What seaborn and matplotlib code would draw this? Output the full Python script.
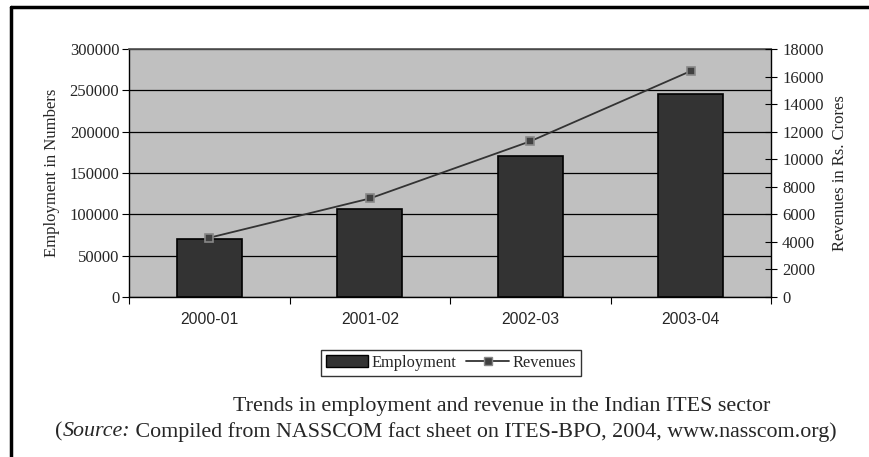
import matplotlib
matplotlib.use('Agg')
import matplotlib.pyplot as plt
import seaborn as sns
from matplotlib.lines import Line2D
from matplotlib.patches import Patch

# data
years = ['2000-01', '2001-02', '2002-03', '2003-04']
employment = [70500, 107000, 171000, 245500]
revenues = [4300, 7150, 11300, 16400]

sns.set_theme(style='white')
plt.rcParams['font.family'] = ['Liberation Serif', 'DejaVu Serif']

fig = plt.figure(figsize=(8.7, 4.57), dpi=100)
ax = fig.add_axes([0.1483, 0.3501, 0.7379, 0.5427])
ax.set_facecolor('#c0c0c0')

sns.barplot(x=years, y=employment, ax=ax, color='#333333', width=0.405,
            edgecolor='black', linewidth=1.2, saturation=1, zorder=3)
ax.set_ylim(0, 300000)
ax.set_yticks(range(0, 300001, 50000))
ax.set_yticklabels([str(v) for v in range(0, 300001, 50000)], fontsize=12)
ax.yaxis.grid(True, color='black', linewidth=0.9)
ax.set_axisbelow(True)
ax.set_ylabel('Employment in Numbers', fontsize=12, labelpad=7)
ax.tick_params(axis='y', direction='out', length=5, width=0.8, color='black',
               pad=2, left=True)

# x ticks at category borders, labels in between
ax.set_xlim(-0.5, 3.5)
ax.set_xticks([-0.5, 0.5, 1.5, 2.5, 3.5])
ax.set_xticklabels([])
ax.set_xticks([0, 1, 2, 3], minor=True)
ax.set_xticklabels(years, minor=True, fontsize=11.3, family='Liberation Sans')
ax.tick_params(axis='x', which='major', direction='out', length=5, width=0.8,
               color='black', bottom=True)
ax.tick_params(axis='x', which='minor', length=0, pad=11)

for s in ['left', 'bottom']:
    ax.spines[s].set_color('black')
    ax.spines[s].set_linewidth(1)
ax.spines['top'].set_color('#555555')
ax.spines['right'].set_visible(False)

ax2 = ax.twinx()
sns.pointplot(x=years, y=revenues, ax=ax2, color='#333333', markers='s',
              linestyles='-', linewidth=1.3, markersize=6)
for ln in ax2.lines:
    ln.set_markerfacecolor('#404040')
    ln.set_markeredgecolor('#888888')
    ln.set_markeredgewidth(1.2)
ax2.set_xlim(-0.5, 3.5)
ax2.set_ylim(0, 18000)
ax2.set_yticks(range(0, 18001, 2000))
ax2.set_yticklabels([str(v) for v in range(0, 18001, 2000)], fontsize=12)
ax2.set_ylabel('Revenues in Rs. Crores', fontsize=12, labelpad=6)
ax2.tick_params(axis='y', direction='inout', length=8, width=0.8, color='black',
                pad=4, right=True)
ax2.grid(False)
for s in ['left', 'top', 'bottom']:
    ax2.spines[s].set_visible(False)
ax2.spines['right'].set_color('black')
ax2.spines['right'].set_linewidth(1)

handles = [Patch(facecolor='#333333', edgecolor='black', label='Employment'),
           Line2D([], [], color='#333333', linewidth=1.3, marker='s', markersize=6,
                  markerfacecolor='#404040', markeredgecolor='#888888',
                  label='Revenues')]
leg = fig.legend(handles=handles, loc='center', bbox_to_anchor=(0.518, 0.206),
                 ncol=2, fontsize=11.8, frameon=True, fancybox=False,
                 edgecolor='black', handlelength=2.6, handletextpad=0.2,
                 columnspacing=0.6, borderpad=0.3)
leg.get_frame().set_linewidth(1)

# outer frame (left and top edges)
fig.add_artist(Line2D([0.0126, 0.0126], [0, 0.985], color='black', linewidth=2.5,
                      transform=fig.transFigure))
fig.add_artist(Line2D([0.0126, 1.0], [0.985, 0.985], color='black', linewidth=2.5,
                      transform=fig.transFigure))

# caption
cap_size = 15.8
fig.text(770 / 870, 1 - 407 / 457, 'Trends in employment and revenue in the Indian ITES sector',
         ha='right', va='center', fontsize=cap_size)

fig.canvas.draw()
r = fig.canvas.get_renderer()
parts = [('(', 'normal'), ('Source:', 'italic'),
         (' Compiled from NASSCOM fact sheet on ITES-BPO, 2004, www.nasscom.org)', 'normal')]
x = 55 / 870
y = 1 - 432 / 457
for txt, st in parts:
    t = fig.text(x, y, txt, ha='left', va='center', fontsize=cap_size, style=st)
    bb = t.get_window_extent(renderer=r)
    x += bb.width / fig.bbox.width

fig.savefig('out.png', dpi=100)
